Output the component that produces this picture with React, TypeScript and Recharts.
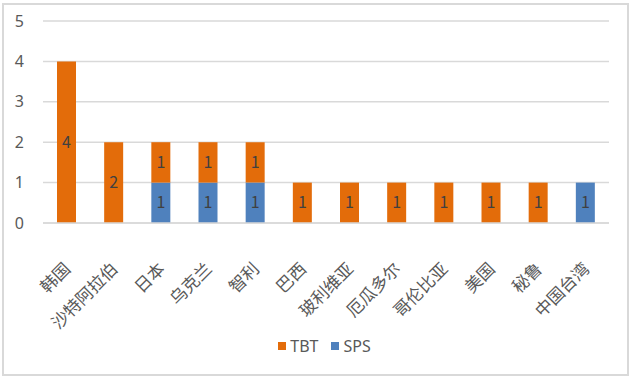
import { Bar, BarChart, CartesianGrid, LabelList, Legend, XAxis, YAxis } from "recharts";

const countries = [
  "韩国",
  "沙特阿拉伯",
  "日本",
  "乌克兰",
  "智利",
  "巴西",
  "玻利维亚",
  "厄瓜多尔",
  "哥伦比亚",
  "美国",
  "秘鲁",
  "中国台湾",
];
const tbtCounts = [4, 2, 1, 1, 1, 1, 1, 1, 1, 1, 1, 0];
const spsCounts = [0, 0, 1, 1, 1, 0, 0, 0, 0, 0, 0, 1];
const yTicks = [0, 1, 2, 3, 4, 5];

const seriesColors = { TBT: "#e36c0a", SPS: "#4f81bd" };
const legendOrder = ["TBT", "SPS"] as const;

const data = countries.map((country, i) => ({
  country,
  TBT: tbtCounts[i],
  SPS: spsCounts[i],
}));

const fontFamily = '"Noto Sans CJK SC", "Noto Sans", sans-serif';
const hideZero = (value: unknown) => (Number(value) === 0 ? "" : String(value));

// rotated category label, end of the text sits just right of the bar centre
function CountryTick({ x, y, payload }: { x?: number; y?: number; payload?: { value: string } }) {
  const px = (x ?? 0) + 5;
  const py = (y ?? 0) + 39;
  return (
    <text
      x={px}
      y={py}
      transform={`rotate(-45, ${px}, ${py})`}
      textAnchor="end"
      fill="#595959"
      fontSize={17}
      fontFamily={fontFamily}
    >
      {payload?.value}
    </text>
  );
}

function ChartLegend() {
  return (
    <div style={{ display: "flex", justifyContent: "center", gap: 13, paddingTop: 4, paddingLeft: 40 }}>
      {legendOrder.map((name) => (
        <div key={name} style={{ display: "flex", alignItems: "center", gap: 4 }}>
          <span style={{ width: 8, height: 8, background: seriesColors[name], display: "inline-block" }} />
          <span style={{ fontSize: 16, color: "#595959", lineHeight: "18px", fontFamily: '"Noto Sans", sans-serif' }}>
            {name}
          </span>
        </div>
      ))}
    </div>
  );
}

export default function App() {
  return (
    <div
      style={{
        position: "absolute",
        left: 0,
        top: 0,
        width: 630,
        height: 378,
        background: "#fff",
        fontFamily,
      }}
    >
      <div
        style={{
          position: "absolute",
          left: 2,
          top: 3,
          width: 623,
          height: 369,
          border: "2px solid #d9d9d9",
          pointerEvents: "none",
        }}
      />
      <BarChart width={630} height={378} data={data} margin={{ top: 21, right: 21, left: 0, bottom: 0 }}>
        <CartesianGrid vertical={false} stroke="#d9d9d9" strokeWidth={1.5} />
        <XAxis
          dataKey="country"
          interval={0}
          height={110}
          axisLine={{ stroke: "#d9d9d9", strokeWidth: 1.5 }}
          tickLine={false}
          tick={<CountryTick />}
        />
        <YAxis
          width={43}
          domain={[0, 5]}
          ticks={yTicks}
          axisLine={false}
          tickLine={false}
          tickMargin={13}
          tick={{ fill: "#595959", fontSize: 16, fontFamily: '"Noto Sans", sans-serif' }}
        />
        <Legend verticalAlign="bottom" height={45} content={<ChartLegend />} />
        <Bar dataKey="SPS" stackId="a" fill={seriesColors.SPS} barSize={19} isAnimationActive={false}>
          <LabelList dataKey="SPS" position="center" formatter={hideZero} fill="#404040" fontSize={16} />
        </Bar>
        <Bar dataKey="TBT" stackId="a" fill={seriesColors.TBT} barSize={19} isAnimationActive={false}>
          <LabelList dataKey="TBT" position="center" formatter={hideZero} fill="#404040" fontSize={16} />
        </Bar>
      </BarChart>
    </div>
  );
}
